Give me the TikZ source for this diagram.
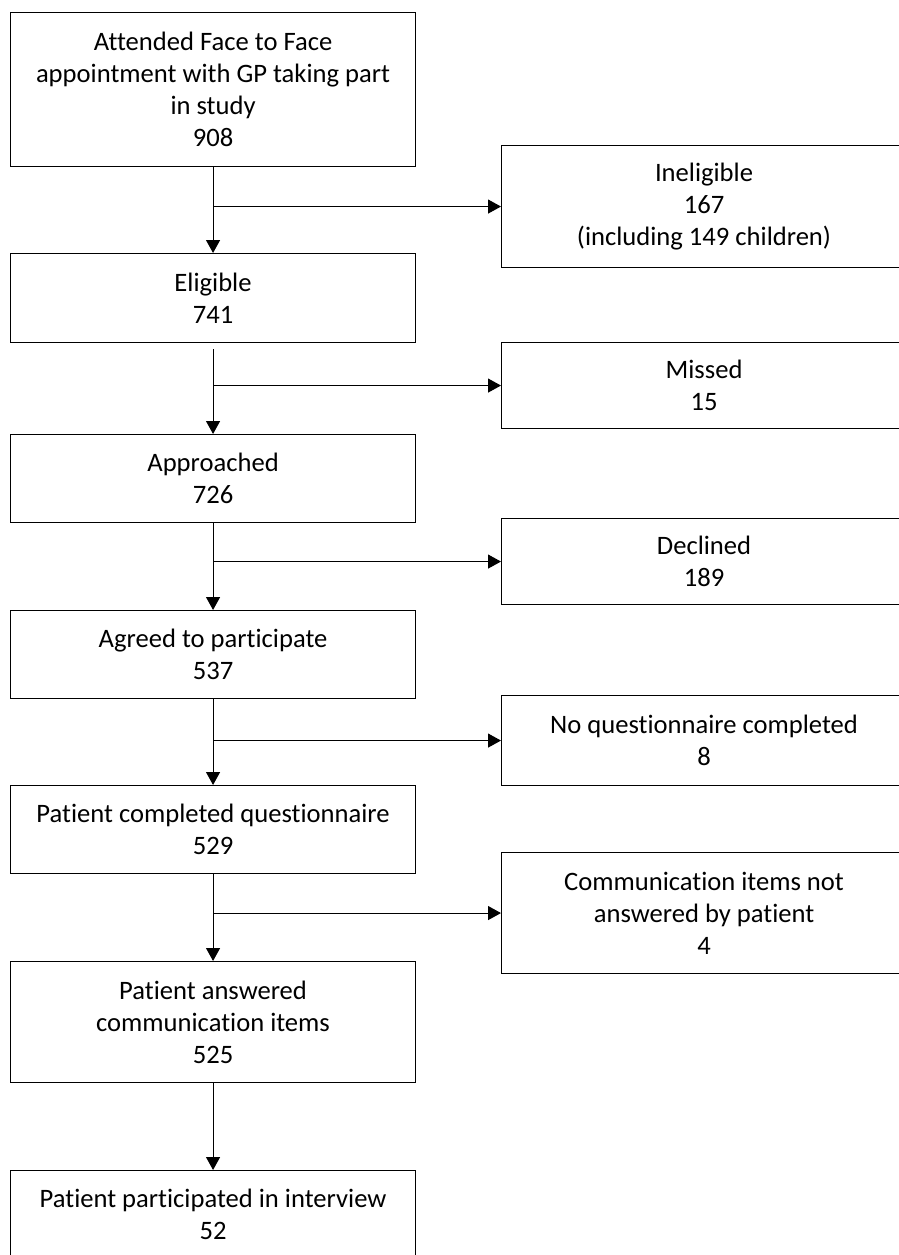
\documentclass[tikz,border=0pt]{standalone}
\usepackage{fontspec}
\setmainfont{Carlito}[Ligatures=NoCommon]
\usetikzlibrary{arrows.meta}
\begin{document}
\begin{tikzpicture}[x=1pt,y=-1pt,
  box/.style={draw=black,line width=1.1pt,anchor=north west,inner sep=0pt,
    minimum width=405pt,align=center,font=\fontsize{26.6pt}{32pt}\selectfont},
  arr/.style={draw=black,line width=1.1pt,-{Triangle[length=13pt,width=14pt]}},
  ln/.style={draw=black,line width=1.1pt}]
\useasboundingbox (0,0) rectangle (899,1255);
% main column
\node[box,minimum height=154pt] (top) at (10,12) {Attended Face to Face\\appointment with GP taking part\\in study\\908};
\node[box,minimum height=89pt] (elig) at (10,253) {Eligible\\741};
\node[box,minimum height=88pt] (appr) at (10,434) {Approached\\726};
\node[box,minimum height=88pt] (agree) at (10,610) {Agreed to participate\\537};
\node[box,minimum height=88pt] (compl) at (10,785) {Patient completed questionnaire\\529};
\node[box,minimum height=121pt] (answ) at (10,961) {Patient answered\\communication items\\525};
\node[box,minimum height=88pt] (inter) at (10,1170) {Patient participated in interview\\52};
% side boxes
\node[box,minimum height=122pt] (inel) at (501,145) {Ineligible\\167\\(including 149 children)};
\node[box,minimum height=86pt] (miss) at (501,342) {Missed\\15};
\node[box,minimum height=86pt] (decl) at (501,518) {Declined\\189};
\node[box,minimum height=90pt] (noq) at (501,695) {No questionnaire completed\\8};
\node[box,minimum height=121pt] (comm) at (501,852) {Communication items not\\answered by patient\\4};
% branch points
\coordinate (b1) at (top.south |- inel.west);
\coordinate (b2) at (top.south |- miss.west);
\coordinate (b3) at (top.south |- decl.west);
\coordinate (b4) at (top.south |- noq.west);
\coordinate (b5) at (top.south |- comm.west);
% vertical arrows
\draw[arr] (top.south) -- (elig.north);
\draw[arr,shorten <=6pt] (elig.south) -- (appr.north);
\draw[arr] (appr.south) -- (agree.north);
\draw[arr] (agree.south) -- (compl.north);
\draw[arr] (compl.south) -- (answ.north);
\draw[arr] (answ.south) -- (inter.north);
% side arrows
\draw[arr] (b1) -- (inel.west);
\draw[arr] (b2) -- (miss.west);
\draw[arr] (b3) -- (decl.west);
\draw[arr] (b4) -- (noq.west);
\draw[arr] (b5) -- (comm.west);
\end{tikzpicture}
\end{document}
